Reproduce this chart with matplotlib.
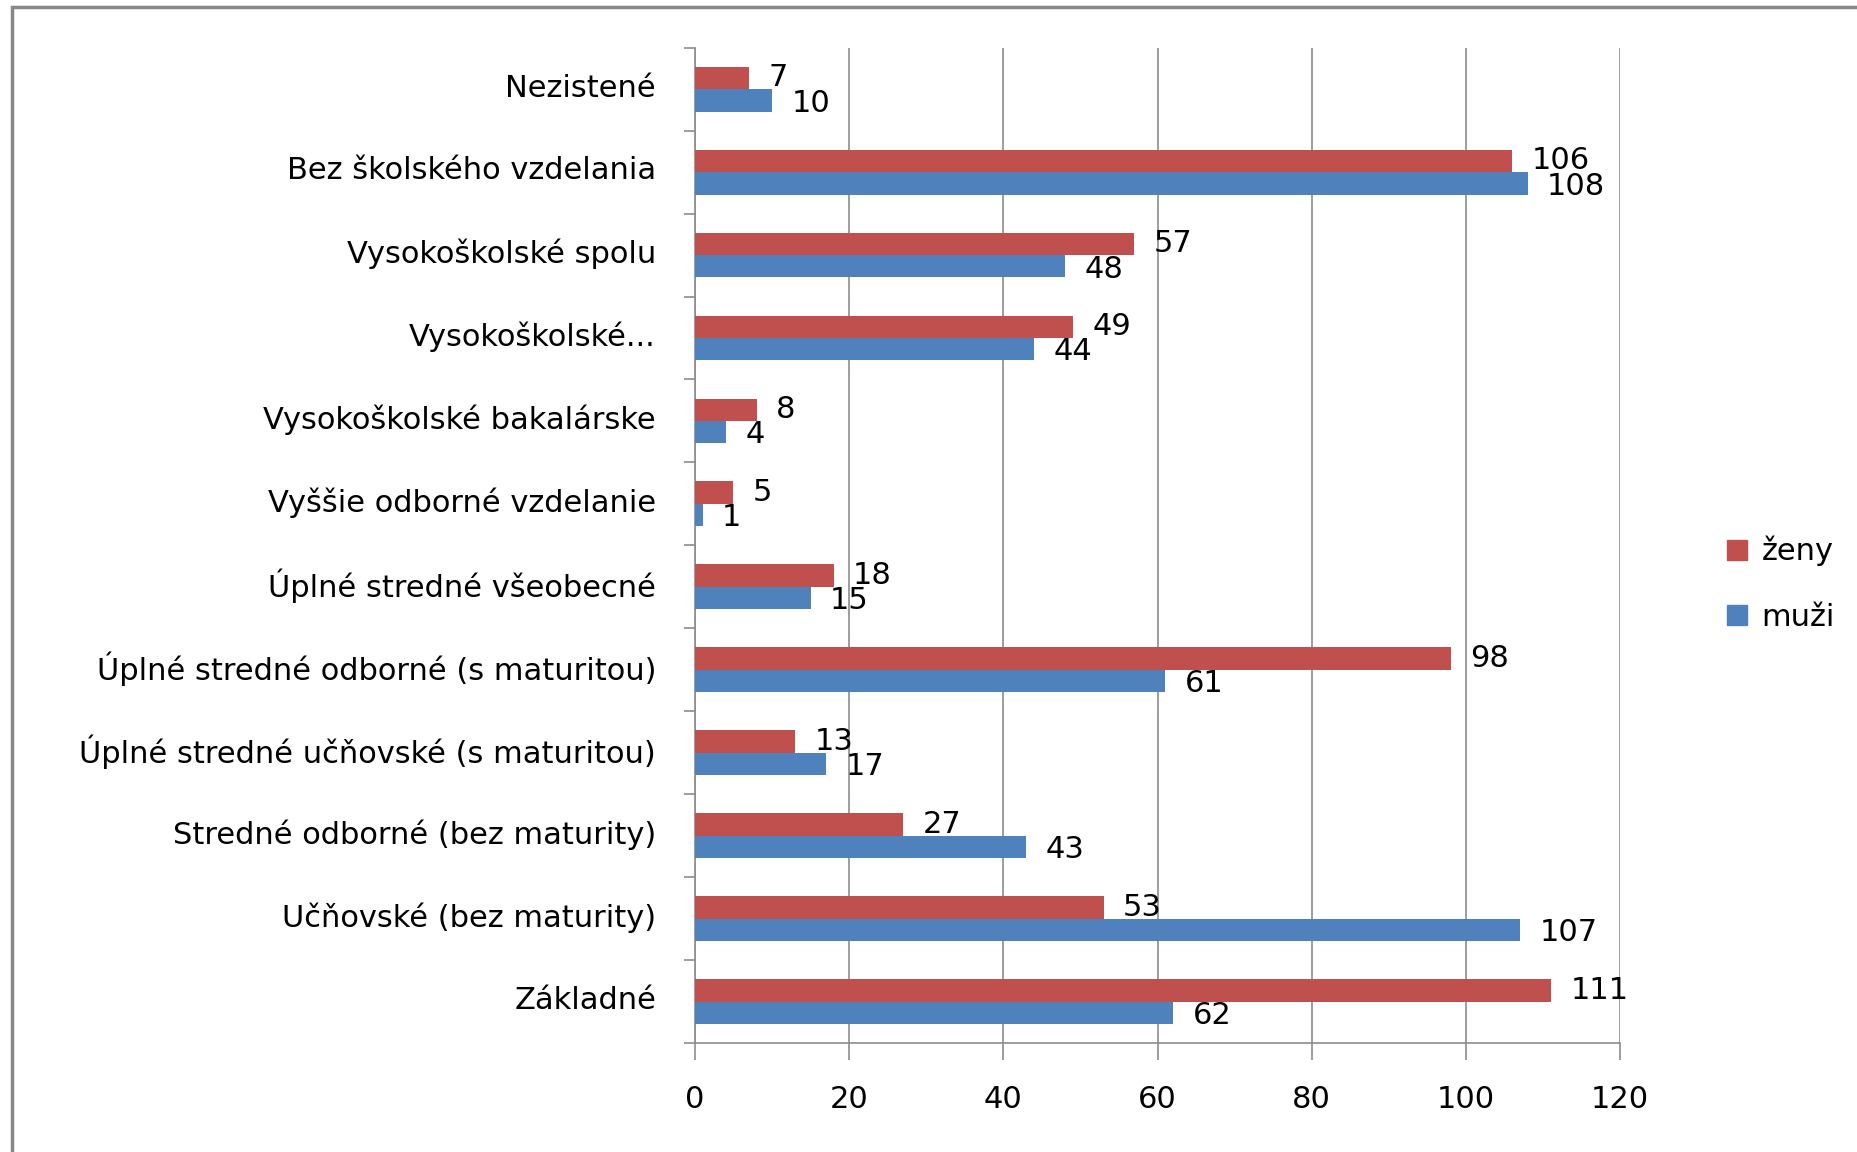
import matplotlib
matplotlib.use("Agg")
import matplotlib.pyplot as plt
import matplotlib.patches as patches
from matplotlib.lines import Line2D
import numpy as np

plt.rcParams['font.family'] = ['DejaVu Sans']

# categories from bottom to top, as in the chart
categories = [
    "Základné",
    "Učňovské (bez maturity)",
    "Stredné odborné (bez maturity)",
    "Úplné stredné učňovské (s maturitou)",
    "Úplné stredné odborné (s maturitou)",
    "Úplné stredné všeobecné",
    "Vyššie odborné vzdelanie",
    "Vysokoškolské bakalárske",
    "Vysokoškolské...",
    "Vysokoškolské spolu",
    "Bez školského vzdelania",
    "Nezistené",
]
zeny = [111, 53, 27, 13, 98, 18, 5, 8, 49, 57, 106, 7]
muzi = [62, 107, 43, 17, 61, 15, 1, 4, 44, 48, 108, 10]
x_ticks = [0, 20, 40, 60, 80, 100, 120]

RED = "#C0504D"
BLUE = "#4F81BD"
GRID = "#8C8C8C"
FS = 22

fig = plt.figure(figsize=(18.58, 11.52), dpi=100)
ax = fig.add_axes([0.374, 0.0946, 0.498, 0.864])

y = np.arange(len(categories))
h = 0.27
ax.barh(y + h / 2, zeny, height=h, color=RED, edgecolor="none", zorder=3, label="ženy")
ax.barh(y - h / 2, muzi, height=h, color=BLUE, edgecolor="none", zorder=3, label="muži")

# data labels, a bit right of bar ends
for yi, v in zip(y, zeny):
    ax.annotate(str(v), (v, yi + h / 2), xytext=(14, 0), textcoords="offset points",
                ha="left", va="center", fontsize=FS, zorder=4)
for yi, v in zip(y, muzi):
    ax.annotate(str(v), (v, yi - h / 2), xytext=(14, -2), textcoords="offset points",
                ha="left", va="center", fontsize=FS, zorder=4)

ax.set_xlim(0, 120)
ax.set_ylim(-0.5, len(categories) - 0.5)
ax.set_xticks(x_ticks)
ax.set_xticklabels([str(t) for t in x_ticks], fontsize=FS)
ax.set_yticks(y + 0.05)
ax.set_yticklabels(categories, fontsize=FS)
ax.set_yticks(np.arange(len(categories) + 1) - 0.5, minor=True)

ax.tick_params(axis="y", which="major", length=0, pad=28)
ax.tick_params(axis="y", which="minor", length=8, color=GRID, width=1.2, direction="out")
ax.tick_params(axis="x", which="major", length=12, color=GRID, width=1.2, direction="out", pad=18)

ax.grid(axis="x", color=GRID, linewidth=1.2, zorder=0)
for s in ["top", "right"]:
    ax.spines[s].set_visible(False)
for s in ["left", "bottom"]:
    ax.spines[s].set_color(GRID)
    ax.spines[s].set_linewidth(1.2)

handles = [
    Line2D([], [], marker="s", linestyle="none", markersize=14, markerfacecolor=RED,
           markeredgecolor=RED, label="ženy"),
    Line2D([], [], marker="s", linestyle="none", markersize=14, markerfacecolor=BLUE,
           markeredgecolor=BLUE, label="muži"),
]
fig.legend(handles=handles, loc="center left", bbox_to_anchor=(0.912, 0.493),
           frameon=False, fontsize=FS, handletextpad=0.3, labelspacing=1.2,
           handlelength=1.0)

# outer chart frame (cut off at right and bottom)
frame = patches.Rectangle((12 / 1858, -0.05), 1.1, 1 - 7 / 1152 + 0.05,
                          transform=fig.transFigure, fill=False,
                          edgecolor="#888888", linewidth=2.5)
fig.patches.append(frame)

fig.savefig("out.png", dpi=100)
